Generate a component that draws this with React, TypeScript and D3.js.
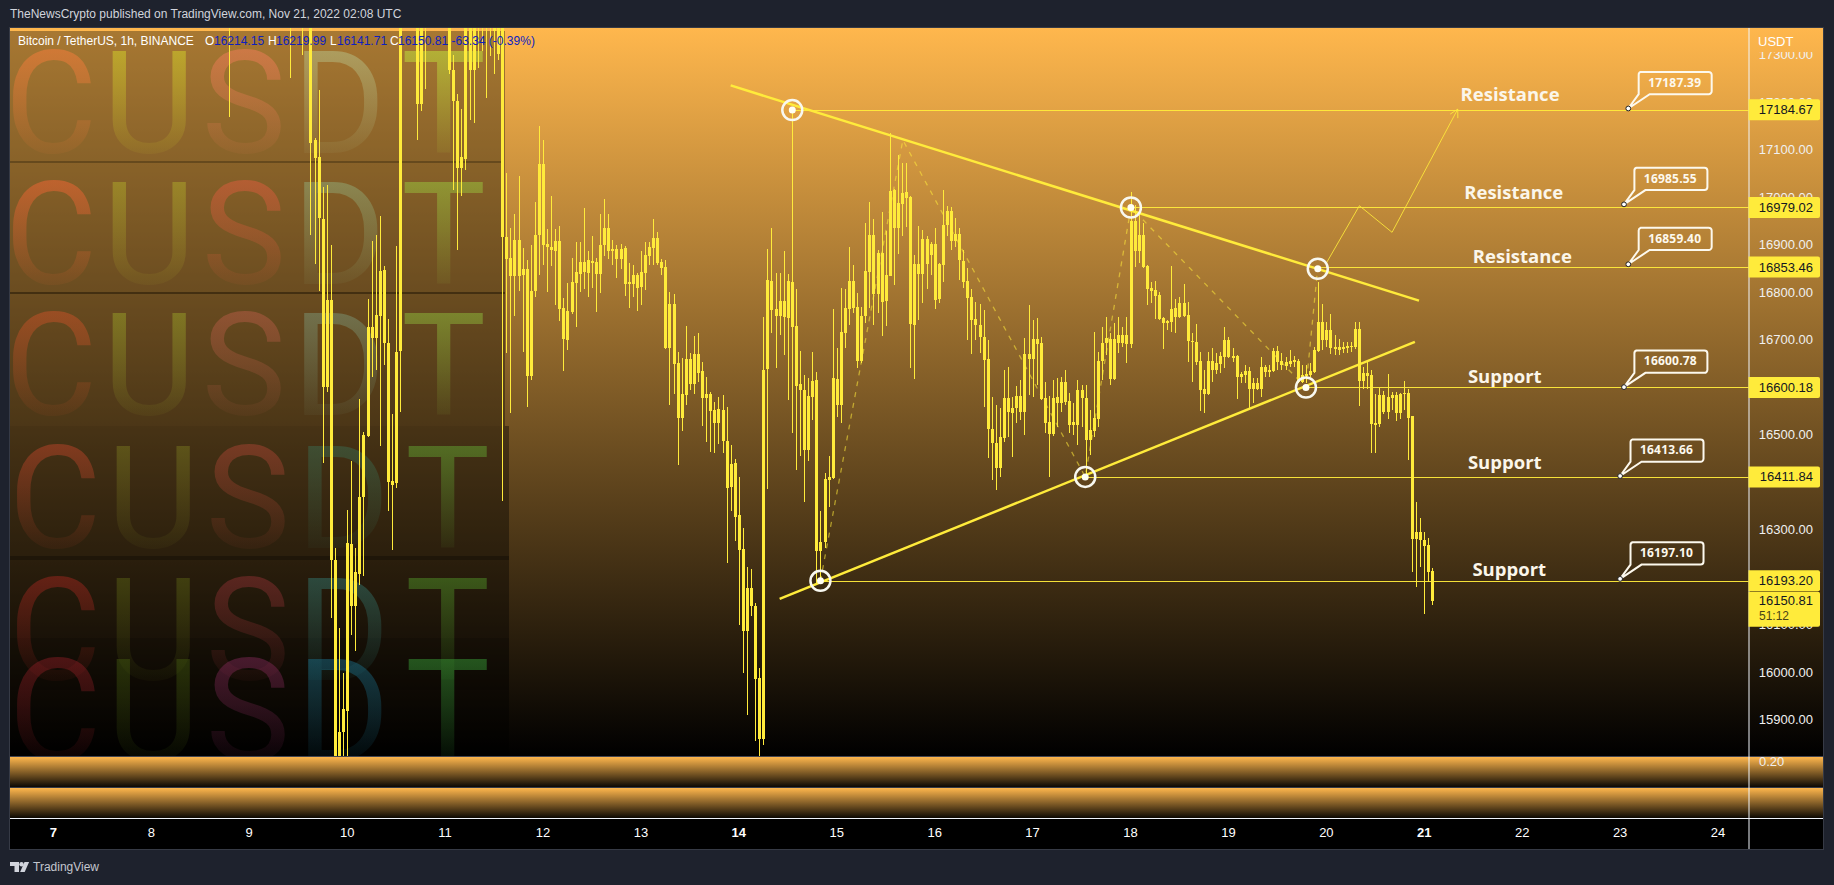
import React from "react";
import * as d3 from "d3";

type Row = [number, number, number, number]; // body high, body low, wick high, wick low

const firstHour = 63; // hours since Nov 7 00:00
const nov09: Row[] = [
[17500,17115,17600,16921],[17121,17083,17125,16859],[17086,16957,17227,16803],[16955,16602,17022,16442],[16784,16602,17027,16591],[16784,16236,16900,16114],[16237,15780,16262,15750],[15875,15780,16094,15750],[15923,15874,15999,15750]];
const nov10: Row[] = [
[16273,15920,16342,15800],[16271,16139,16446,16079],[16212,16139,16262,16046],[16370,16208,16576,16185],[16500,16370,16507,16204],[16728,16497,16787,16495],[16728,16705,16909,16622],[16752,16705,16921,16637],[16846,16751,16961,16476],[16848,16694,16856,16648],[16694,16402,16744,16341],[16403,16395,16544,16258],[16674,16399,16898,16389],[17450,16676,17500,16549],[17500,17420,17550,17400],[17500,17420,17550,17400],[17500,17420,17550,17400],[17500,17197,17560,17122],[17500,17197,17560,17182],[17480,17420,17520,17229],[17480,17400,17500,17380],[17480,17400,17500,17380],[17480,17400,17500,17380],[17480,17400,17500,17380]];
const nov11: Row[] = [
[17480,17400,17500,17380],[17450,17269,17500,17260],[17269,17204,17300,17015],[17203,17062,17218,16890],[17085,17062,17187,17004],[17400,17082,17450,17057],[17420,17269,17480,17164],[17420,17269,17480,17156],[17420,17370,17480,17273],[17450,17380,17500,17309],[17420,17370,17480,17210],[17450,17380,17500,17298],[17450,17351,17500,17261],[17450,17302,17500,17290],[17450,16916,17500,16362],[16917,16871,17051,16673],[16873,16835,16936,16546],[16911,16835,16965,16751],[16911,16835,17045,16803],[16850,16837,16894,16674],[16850,16625,16869,16558],[16803,16625,16900,16615],[16921,16803,16991,16791],[17071,16921,17151,16836]];
const nov12: Row[] = [
[17071,16900,17121,16858],[16902,16895,16934,16802],[16895,16890,17003,16856],[16909,16888,16934,16774],[16909,16766,16939,16741],[16768,16702,16789,16634],[16761,16700,16820,16678],[16822,16758,16873,16755],[16843,16820,16907,16728],[16864,16839,16907,16802],[16864,16843,16978,16808],[16869,16841,16888,16791],[16867,16862,16919,16810],[16864,16839,16873,16758],[16900,16839,16965,16800],[16936,16900,16997,16876],[16936,16888,16965,16871],[16892,16888,16911,16858],[16892,16871,16900,16831],[16892,16871,16902,16850],[16894,16818,16898,16793],[16822,16818,16862,16768],[16837,16818,16857,16791],[16837,16810,16842,16762]];
const nov13: Row[] = [
[16843,16812,16888,16774],[16879,16841,16907,16806],[16896,16877,16907,16858],[16915,16894,16955,16858],[16915,16862,16928,16858],[16864,16852,16871,16837],[16854,16683,16869,16681],[16776,16683,16801,16563],[16776,16650,16797,16587],[16652,16536,16675,16436],[16587,16536,16662,16509],[16660,16585,16730,16563],[16660,16608,16673,16595],[16671,16608,16709,16587],[16671,16631,16715,16612],[16635,16578,16654,16519],[16587,16578,16622,16486],[16587,16551,16591,16465],[16553,16526,16570,16463],[16555,16526,16580,16481],[16553,16488,16584,16463],[16488,16389,16559,16231],[16439,16391,16479,16339],[16441,16328,16450,16277]];
const nov14: Row[] = [
[16332,16258,16412,16100],[16260,16088,16305,15999],[16178,16088,16222,15911],[16178,16139,16218,16119],[16140,15987,16147,15855],[15989,15860,16010,15825],[16637,15860,16749,15848],[16827,16639,16892,16386],[16824,16763,16936,16715],[16766,16751,16841,16641],[16782,16751,16841,16711],[16782,16749,16888,16669],[16824,16747,16839,16574],[16822,16728,17184,16504],[16730,16603,16808,16427],[16608,16595,16677,16455],[16595,16469,16627,16358],[16582,16469,16620,16446],[16614,16580,16675,16532],[16616,16256,16633,16189],[16275,16256,16340,16192],[16408,16275,16420,16263],[16412,16406,16456,16349],[16620,16410,16766,16408]];
const nov15: Row[] = [
[16618,16563,16683,16538],[16717,16563,16810,16526],[16768,16715,16808,16683],[16824,16766,16896,16732],[16824,16768,16858,16757],[16770,16656,16799,16641],[16751,16656,16770,16652],[16846,16751,16947,16736],[16921,16843,16991,16768],[16921,16797,16955,16732],[16883,16797,16890,16757],[16883,16780,16970,16709],[16837,16782,16930,16730],[17014,16835,17136,16835],[17016,16936,17018,16816],[16989,16936,17090,16881],[17010,16987,17073,16919],[17012,16999,17073,16938],[17001,16734,17003,16641],[16860,16732,16879,16618],[16860,16839,16940,16742],[16913,16839,16932,16778],[16913,16860,16919,16808],[16902,16879,16907,16837]];
const nov16: Row[] = [
[16902,16784,16936,16766],[16860,16787,16862,16778],[16942,16858,17016,16822],[16972,16942,16982,16919],[16972,16909,16980,16890],[16923,16909,16957,16896],[16923,16869,16936,16827],[16867,16822,16890,16810],[16824,16789,16852,16700],[16791,16742,16808,16671],[16744,16732,16780,16700],[16732,16707,16776,16673],[16707,16658,16763,16559],[16660,16513,16700,16452],[16513,16483,16580,16406],[16483,16431,16563,16385],[16496,16431,16557,16412],[16578,16494,16637,16486],[16578,16549,16643,16496],[16557,16547,16580,16454],[16582,16557,16603,16526],[16582,16549,16616,16532],[16671,16549,16704,16500],[16671,16660,16774,16584]];
const nov17: Row[] = [
[16702,16660,16742,16580],[16702,16692,16747,16606],[16694,16576,16707,16574],[16578,16526,16612,16504],[16528,16502,16582,16412],[16578,16502,16616,16498],[16580,16568,16620,16517],[16612,16568,16622,16549],[16612,16570,16637,16563],[16572,16521,16589,16504],[16528,16521,16568,16500],[16595,16521,16616,16479],[16595,16578,16606,16517],[16578,16490,16606,16412],[16511,16490,16553,16458],[16536,16509,16717,16496],[16656,16534,16675,16517],[16694,16656,16728,16616],[16704,16694,16749,16669],[16702,16618,16715,16606],[16702,16618,16736,16616],[16711,16694,16749,16673],[16711,16694,16728,16686],[16711,16692,16749,16652]];
const nov18: Row[] = [
[16951,16692,17012,16683],[16951,16888,16984,16854],[16921,16888,16963,16862],[16921,16854,16947,16852],[16856,16808,16858,16774],[16810,16803,16822,16778],[16806,16793,16824,16744],[16795,16744,16801,16742],[16747,16736,16749,16681],[16740,16736,16742,16721],[16766,16738,16856,16717],[16768,16749,16787,16715],[16778,16749,16791,16747],[16778,16751,16818,16749],[16753,16698,16780,16654],[16698,16696,16715,16612],[16696,16654,16734,16648],[16656,16595,16675,16551],[16597,16587,16637,16547],[16656,16587,16675,16584],[16656,16637,16683,16612],[16652,16637,16673,16629],[16667,16650,16675,16631],[16700,16664,16728,16641]];
const nov19: Row[] = [
[16700,16664,16707,16662],[16667,16662,16683,16654],[16667,16622,16669,16576],[16629,16622,16633,16610],[16635,16627,16648,16610],[16635,16597,16643,16557],[16610,16597,16620,16568],[16610,16597,16620,16595],[16643,16597,16664,16580],[16643,16633,16648,16622],[16637,16633,16648,16622],[16677,16635,16683,16633],[16677,16654,16688,16637],[16656,16648,16673,16637],[16654,16646,16664,16637],[16656,16650,16679,16643],[16658,16654,16667,16643],[16656,16612,16660,16610],[16627,16612,16648,16610],[16629,16625,16648,16610],[16635,16627,16652,16622],[16679,16633,16686,16631],[16738,16677,16822,16675],[16738,16700,16776,16679]];
const nov20: Row[] = [
[16721,16700,16738,16686],[16721,16683,16755,16671],[16686,16681,16711,16669],[16686,16679,16702,16669],[16686,16681,16696,16673],[16688,16683,16696,16673],[16688,16686,16696,16675],[16723,16686,16738,16681],[16723,16614,16738,16561],[16631,16614,16643,16597],[16631,16625,16654,16597],[16627,16523,16637,16462],[16526,16521,16587,16462],[16584,16523,16599,16517],[16584,16549,16593,16544],[16580,16549,16629,16534],[16584,16578,16591,16553],[16584,16547,16591,16530],[16587,16547,16589,16534],[16589,16587,16614,16553],[16589,16536,16597,16448],[16540,16281,16540,16212],[16296,16281,16359,16180],[16296,16279,16326,16222]];
const nov21: Row[] = [
[16279,16267,16296,16123],[16269,16212,16283,16191],[16214,16151,16220,16142]];

// Candles whose bodies sit above the visible range: only the lower wick shows.
const wickOnlyHours = [43, 58, 61];
const wickOnlyLows = [17170, 17252, 17301];

const priceTicks = [17300,17200,17100,17000,16900,16800,16700,16500,16300,16100,16000,15900];
const dayTicks = [7,8,9,10,11,12,13,14,15,16,17,18,19,20,21,22,23,24];
const boldDays = [7,14,21];

const levelHours = [181.1, 264.1, 309.9, 307, 252.9, 188];
const levelPrices = [17184.67, 16979.02, 16853.46, 16600.18, 16411.84, 16193.2];
const circlePrices = [17184, 16979, 16850, 16600, 16411.8, 16193];

const calloutHours = [386, 384.95, 386, 384.95, 384, 384];
const calloutPrices = [17187.39, 16985.55, 16859.4, 16600.78, 16413.66, 16197.1];

const noteTexts = ["Resistance","Resistance","Resistance","Support","Support","Support"];
const noteHours = [344.9, 345.8, 347.9, 346.7, 346.7, 347.8];
const notePrices = [17203, 16996, 16861.5, 16610, 16428, 16203];

const fallingLine: [number, number][] = [[166, 17236],[334.7, 16783]];
const risingLine: [number, number][] = [[178, 16155],[333.7, 16696]];
const dashedPath: [number, number][] = [[188,16193],[208.2,17121],[252.9,16411.8],[264.1,16979],[307,16600],[309.9,16853]];
const projection: [number, number][] = [[312,16862],[320.1,16982.7],[328.1,16926.7],[344.2,17186]];

const watermarkLetters = ["C","U","S","D","T"];
const letterCentres = [51,149,244,339,443.5];
const rowBaselines = [153,284,415,548,680,761];
const rowColours = [
  ["#ff7d3c","#d8db28","#f87d5c","#b8c890","#c4f03c"],
  ["#fa6635","#b1af2a","#e55c3f","#92b07d","#9ccf3f"],
  ["#cf5228","#9ba628","#bb5d48","#7d9b7c","#91c53d"],
  ["#c2452a","#79791f","#ad4534","#3a6e53","#64ad34"],
  ["#a5271f","#5c6514","#913134","#337a72","#529929"],
  ["#8c1d24","#435b0f","#822958","#1a708c","#39a439"],
];

const ORANGE = "#ffb74d";
const YEL = "#ffeb3b";
const W = 1834, H = 885;
const LEFT = 10, RIGHT = 1823, AXIS = 1748.5, TOP = 28, MAIN_BOTTOM = 756;

const x = d3.scaleLinear().domain([0, 408]).range([53.4, 53.4 + 408 * 4.08]);
const y = d3.scaleLinear().domain([17100, 15900]).range([150, 720]);
const line = d3.line<[number, number]>().x(d => x(d[0])).y(d => y(d[1]));

const candles: Row[] = [nov09,nov10,nov11,nov12,nov13,nov14,nov15,nov16,nov17,nov18,nov19,nov20,nov21].flat();

const axisFont = "'Liberation Sans', Arial, sans-serif";
const noteFont = "'Open Sans', sans-serif";

function Badge({ value, extra }: { value: number; extra?: string }) {
  const cy = y(value);
  const top = extra ? cy - 9 : cy - 10.5;
  const h = extra ? 35 : 21;
  return (
    <g>
      <path d={`M${AXIS},${top}H1818a2,2 0 0 1 2,2V${top + h - 2}a2,2 0 0 1 -2,2H${AXIS}Z`} fill={YEL} />
      <text x={1813} y={cy + 1} textAnchor="end" dominantBaseline="middle" fontSize={13} fontFamily={axisFont} fill="#131722">{value.toFixed(2)}</text>
      {extra && <text x={1759} y={cy + 16} dominantBaseline="middle" fontSize={12} fontFamily={axisFont} fill="#4a4418">{extra}</text>}
    </g>
  );
}

export default function App() {
  return (
    <svg width={W} height={H} viewBox={`0 0 ${W} ${H}`} style={{ position: "fixed", left: 0, top: 0, display: "block" }}>
      <defs>
        <linearGradient id="mainBg" gradientUnits="userSpaceOnUse" x1={0} x2={0} y1={TOP} y2={MAIN_BOTTOM}>
          <stop offset="0" stopColor={ORANGE} /><stop offset="1" stopColor="#000" />
        </linearGradient>
        <linearGradient id="paneBg" x1={0} x2={0} y1={0} y2={1}>
          <stop offset="0" stopColor={ORANGE} /><stop offset="1" stopColor="#0c0803" />
        </linearGradient>
        {rowColours.map((cols, r) => cols.map((c, l) => (
          <linearGradient key={`${r}-${l}`} id={`wm${r}${l}`} gradientUnits="userSpaceOnUse" x1={0} x2={0} y1={rowBaselines[r] - 102} y2={rowBaselines[r]}>
            <stop offset="0" stopColor={c} stopOpacity={0.48} /><stop offset="1" stopColor={c} stopOpacity={0.07} />
          </linearGradient>
        )))}
        <clipPath id="mainClip"><rect x={LEFT} y={TOP} width={AXIS - LEFT} height={MAIN_BOTTOM - TOP} /></clipPath>
        <clipPath id="axisClip"><rect x={AXIS} y={52} width={RIGHT - AXIS} height={MAIN_BOTTOM - 52} /></clipPath>
      </defs>

      <rect width={W} height={H} fill="#1e222d" />
      <text x={10} y={15} dominantBaseline="middle" fontSize={12} fontFamily={axisFont} fill="#d1d4dc">TheNewsCrypto published on TradingView.com, Nov 21, 2022 02:08 UTC</text>

      {/* chart frame */}
      <rect x={LEFT - 0.5} y={TOP - 0.5} width={RIGHT - LEFT + 1} height={849.5 - TOP + 0.5} fill="none" stroke="#363a45" />
      <rect x={LEFT} y={TOP} width={RIGHT - LEFT} height={MAIN_BOTTOM - TOP} fill="url(#mainBg)" />

      {/* watermark stack */}
      <g clipPath="url(#mainClip)">
        <rect x={LEFT} y={31} width={495} height={395} fill="#000" opacity={0.34} />
        <rect x={LEFT} y={426} width={499} height={330} fill="#000" opacity={0.38} />
        <rect x={LEFT} y={638} width={499} height={52} fill="#000" opacity={0.12} />
        <rect x={LEFT} y={161.5} width={492} height={1} fill="#2a1c08" opacity={0.7} />
        <rect x={LEFT} y={292} width={495} height={2} fill="#2a1c08" opacity={0.6} />
        <rect x={LEFT} y={556} width={499} height={4} fill="#0e0a04" opacity={0.4} />
        {rowBaselines.map((b, r) => watermarkLetters.map((ch, l) => (
          <text key={`${r}-${l}`} x={letterCentres[l] + (r > 2 ? 4 : 0)} y={b} textAnchor="middle" fontFamily="Roboto, sans-serif" fontWeight={400} fontSize={142} fill={`url(#wm${r}${l})`}>{ch}</text>
        )))}
      </g>

      {/* price axis ticks below the badges */}
      <g clipPath="url(#axisClip)">
        {priceTicks.map(p => (
          <text key={p} x={1813} y={y(p) + 1} textAnchor="end" dominantBaseline="middle" fontSize={13} fontFamily={axisFont} fill="#f0f0f0">{p.toFixed(2)}</text>
        ))}
      </g>
      <text x={1758} y={43} dominantBaseline="middle" fontSize={13} fontFamily={axisFont} fill="#fff">USDT</text>

      {/* candles */}
      <g clipPath="url(#mainClip)" fill={YEL} shapeRendering="crispEdges">
        {wickOnlyHours.map((h, i) => (
          <rect key={h} x={Math.round(x(h))} y={0} width={1} height={y(wickOnlyLows[i])} />
        ))}
        {candles.map((c, i) => {
          const cx = Math.round(x(firstHour + i));
          return (
            <g key={i}>
              <rect x={cx} y={y(c[2])} width={1} height={y(c[3]) - y(c[2])} />
              <rect x={cx - 1} y={y(c[0])} width={3} height={Math.max(1, y(c[1]) - y(c[0]))} />
            </g>
          );
        })}
      </g>

      {/* drawings */}
      <g clipPath="url(#mainClip)" fill="none">
        {levelHours.map((h, i) => (
          <line key={h} x1={x(h)} x2={AXIS} y1={Math.round(y(levelPrices[i])) + 0.5} y2={Math.round(y(levelPrices[i])) + 0.5} stroke={YEL} strokeWidth={1} opacity={0.95} shapeRendering="crispEdges" />
        ))}
        <path d={line(dashedPath) ?? ""} stroke="#ffeb3b" strokeOpacity={0.55} strokeWidth={1.3} strokeDasharray="5 6" />
        <path d={line(fallingLine) ?? ""} stroke={YEL} strokeWidth={2.5} />
        <path d={line(risingLine) ?? ""} stroke={YEL} strokeWidth={2.5} />
        <path d={line(projection) ?? ""} stroke={YEL} strokeOpacity={0.85} strokeWidth={1} />
        {(() => {
          const a = projection[projection.length - 2], b = projection[projection.length - 1];
          const ang = Math.atan2(y(b[1]) - y(a[1]), x(b[0]) - x(a[0]));
          const tx = x(b[0]), ty = y(b[1]), L = 9;
          const p = (t: number) => `${tx - L * Math.cos(ang + t)},${ty - L * Math.sin(ang + t)}`;
          return <path d={`M${p(0.5)}L${tx},${ty}L${p(-0.5)}`} stroke={YEL} strokeOpacity={0.85} strokeWidth={1} />;
        })()}
        {levelHours.map((h, i) => (
          <g key={h}>
            <circle cx={x(h)} cy={y(circlePrices[i])} r={10} stroke="#f8f8f0" strokeWidth={2.5} />
            <circle cx={x(h)} cy={y(circlePrices[i])} r={3.5} fill="#fffff4" />
          </g>
        ))}
      </g>

      {/* text notes */}
      {noteTexts.map((t, i) => (
        <text key={i} x={x(noteHours[i])} y={y(notePrices[i])} fontFamily={noteFont} fontWeight={700} fontSize={18.5} fill="#fbf6ea">{t}</text>
      ))}
      {calloutPrices.map((p, i) => {
        const dx = x(calloutHours[i]), dy = y(p);
        const bx = dx + 9.4, by = dy - 36.6, bw = 74, bh = 22.3;
        return (
          <g key={p}>
            <path d={`M${bx + 3},${by}H${bx + bw - 3}a3,3 0 0 1 3,3V${by + bh - 3}a3,3 0 0 1 -3,3H${bx + 12}L${dx},${dy}L${bx + 1},${by + bh}V${by + 3}a3,3 0 0 1 2,-3Z`} fill="none" stroke="#fdf9ee" strokeWidth={2} />
            <text x={bx + bw / 2} y={by + bh / 2 + 0.5} textAnchor="middle" dominantBaseline="middle" fontFamily={noteFont} fontWeight={700} fontSize={12} letterSpacing={0.2} fill="#fdf9ee">{p.toFixed(2)}</text>
            <circle cx={dx} cy={dy} r={2.4} fill="#fff" stroke="#222" strokeWidth={1} />
          </g>
        );
      })}

      {/* lower panes */}
      <rect x={LEFT} y={756} width={RIGHT - LEFT} height={1} fill="#434651" />
      <rect x={LEFT} y={757} width={RIGHT - LEFT} height={30} fill="url(#paneBg)" />
      <rect x={LEFT} y={787} width={RIGHT - LEFT} height={1} fill="#363a45" />
      <rect x={LEFT} y={788} width={RIGHT - LEFT} height={30} fill="url(#paneBg)" />
      <rect x={LEFT} y={818} width={RIGHT - LEFT} height={31} fill="#000" />
      <rect x={LEFT} y={818} width={RIGHT - LEFT} height={1} fill="#f0f3fa" />
      <rect x={AXIS} y={TOP} width={1} height={849 - TOP} fill="#f0f3fa" />
      <text x={1759} y={762.5} dominantBaseline="middle" fontSize={13} fontFamily={axisFont} fill="#f0f0f0">0.20</text>
      {dayTicks.map(d => (
        <text key={d} x={x((d - 7) * 24)} y={834} textAnchor="middle" dominantBaseline="middle" fontSize={13} fontFamily={axisFont} fontWeight={boldDays.includes(d) ? 700 : 400} fill="#fff">{d}</text>
      ))}

      {/* last value badges */}
      {levelPrices.map(p => <Badge key={p} value={p} />)}
      <Badge value={16150.81} extra="51:12" />

      {/* legend */}
      <text y={42} fontFamily={axisFont} fontSize={12} dominantBaseline="middle" fill="#fff">
        <tspan x={18}>Bitcoin / TetherUS, 1h, BINANCE</tspan>
        <tspan x={205}>O</tspan><tspan x={214} fill="#0d1fc0">16214.15</tspan>
        <tspan x={268}>H</tspan><tspan x={276} fill="#0d1fc0">16219.99</tspan>
        <tspan x={330}>L</tspan><tspan x={337} fill="#0d1fc0">16141.71</tspan>
        <tspan x={390}>C</tspan><tspan x={398} fill="#0d1fc0">16150.81</tspan>
        <tspan x={451.5} fill="#0d1fc0">-63.34 (-0.39%)</tspan>
      </text>

      {/* footer logo */}
      <g fill="#d1d4dc">
        <path d="M10,862h9v10h-4.5v-6H10Z" />
        <circle cx={21.5} cy={864.3} r={2.2} />
        <path d="M24.5,862h4.6l-4.4,10h-4.6Z" />
      </g>
      <text x={33} y={867.5} dominantBaseline="middle" fontSize={12} fontFamily={axisFont} fill="#c3c6ce">TradingView</text>
    </svg>
  );
}
